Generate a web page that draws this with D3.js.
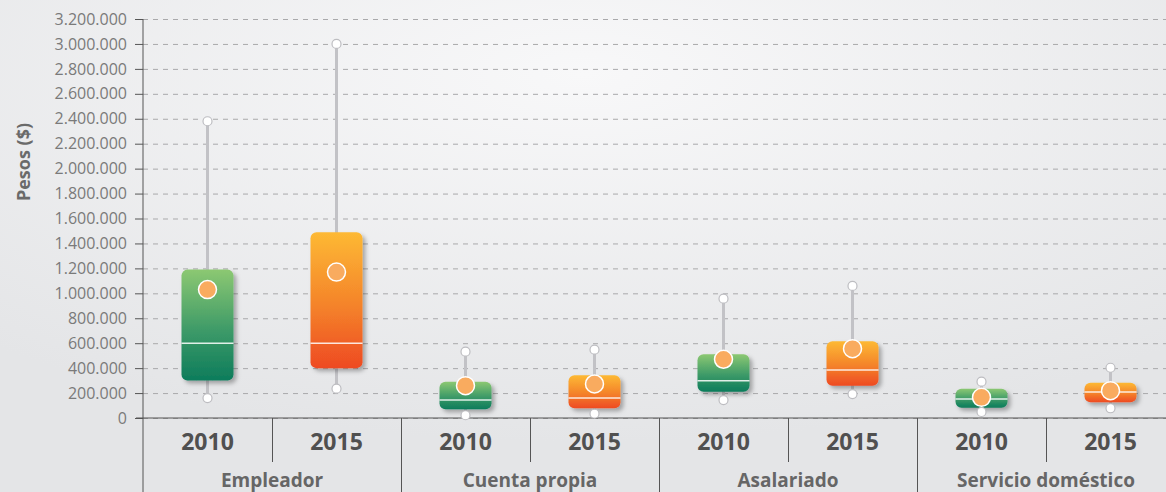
<html>
  <head>
    <script src="https://d3js.org/d3.v7.min.js"></script>
  <style>
    body { margin: 0; }
    .gridlines line {
      stroke: #a9a9ab;
      stroke-dasharray: 5,5;
    }
    .gridlines .domain { stroke: none; }
    .y-axis text {
      font-family: "Open Sans", sans-serif;
      font-size: 16px;
      fill: #7a7a7a;
    }
    .y-axis line, .y-axis .domain { stroke: #555; }
  </style>
  </head>

  <body>
    <svg id="mainSVG" width="1166" height="492"></svg>
  </body>

  <script>
      const mainSvg = d3.select("#mainSVG");
      const W = 1166, H = 492;

      // data
      const groups = ["Empleador", "Cuenta propia", "Asalariado", "Servicio doméstico"];
      const years = ["2010", "2015"];
      // order: group x year
      const mins    = [160000, 235000, 22000, 35000, 144000, 192000, 48000, 78000];
      const q1s     = [300000, 400000, 70000, 78000, 211000, 259000, 83000, 126000];
      const medians = [600000, 600000, 144000, 160000, 299000, 385000, 152000, 209000];
      const q3s     = [1190000, 1490000, 291000, 342000, 511000, 615000, 235000, 283000];
      const maxs    = [2380000, 3000000, 532000, 548000, 957000, 1059000, 291000, 403000];
      const means   = [1030000, 1170000, 259000, 273000, 471000, 556000, 166000, 219000];
      const yTicks  = d3.range(0, 3200001, 200000);

      const boxes = [];
      groups.forEach((g, gi) => {
        years.forEach((yr, yi) => {
          const i = gi * 2 + yi;
          boxes.push({ key: g + "|" + yr, group: g, year: yr,
            min: mins[i], q1: q1s[i], median: medians[i], q3: q3s[i], max: maxs[i], mean: means[i] });
        });
      });

      const x0 = 143, xEnd = 1175, y0 = 418, yTop = 19;

      const xScale = d3.scaleBand()
        .domain(boxes.map(d => d.key))
        .range([x0, xEnd])
        .padding(0);
      const yScale = d3.scaleLinear()
        .domain([0, 3200000])
        .range([y0, yTop]);

      const locale = d3.formatLocale({ decimal: ",", thousands: ".", grouping: [3], currency: ["$", ""] });
      const fmt = locale.format(",d");

      // defs: background, gradients, shadow
      const defs = mainSvg.append("defs");
      const bg = defs.append("radialGradient").attr("id", "bg")
        .attr("cx", "50%").attr("cy", "15%").attr("r", "75%");
      bg.append("stop").attr("offset", "0%").attr("stop-color", "#f8f8f9");
      bg.append("stop").attr("offset", "100%").attr("stop-color", "#e4e5e7");

      const green = defs.append("linearGradient").attr("id", "green")
        .attr("x1", 0).attr("y1", 0).attr("x2", 0).attr("y2", 1);
      green.append("stop").attr("offset", "0%").attr("stop-color", "#8cc872");
      green.append("stop").attr("offset", "55%").attr("stop-color", "#3d9a68");
      green.append("stop").attr("offset", "100%").attr("stop-color", "#0d7c5b");

      const orange = defs.append("linearGradient").attr("id", "orange")
        .attr("x1", 0).attr("y1", 0).attr("x2", 0).attr("y2", 1);
      orange.append("stop").attr("offset", "0%").attr("stop-color", "#fdb934");
      orange.append("stop").attr("offset", "55%").attr("stop-color", "#f4822a");
      orange.append("stop").attr("offset", "100%").attr("stop-color", "#ee4a23");

      const shadow = defs.append("filter").attr("id", "shadow")
        .attr("x", "-30%").attr("y", "-30%").attr("width", "160%").attr("height", "160%");
      shadow.append("feDropShadow").attr("dx", 3).attr("dy", 3)
        .attr("stdDeviation", 2).attr("flood-color", "#000").attr("flood-opacity", 0.3);

      mainSvg.append("rect").attr("width", W).attr("height", H).attr("fill", "url(#bg)");

      // gridlines
      mainSvg.append("g")
        .attr("class", "gridlines")
        .attr("transform", `translate(${x0},0)`)
        .call(d3.axisLeft(yScale).tickValues(yTicks).tickSize(-(W - x0)).tickFormat(""));

      // y axis
      const yAxisG = mainSvg.append("g")
        .attr("class", "y-axis")
        .attr("transform", `translate(${x0},0)`)
        .call(d3.axisLeft(yScale).tickValues(yTicks).tickSize(8).tickSizeOuter(0).tickPadding(8).tickFormat(fmt));
      yAxisG.select(".domain").remove();
      mainSvg.append("line")
        .attr("x1", x0).attr("x2", x0).attr("y1", yTop).attr("y2", H)
        .attr("stroke", "#555").attr("stroke-width", 1);

      // y title
      mainSvg.append("text")
        .attr("transform", "translate(23,162) rotate(-90)")
        .attr("text-anchor", "middle")
        .attr("dominant-baseline", "central")
        .style("font-family", "Open Sans, sans-serif")
        .style("font-weight", "bold")
        .style("font-size", "18px")
        .style("fill", "#6a6a6a")
        .text("Pesos ($)");

      // x axis line and dividers
      mainSvg.append("line")
        .attr("x1", 136).attr("x2", W).attr("y1", y0).attr("y2", y0)
        .attr("stroke", "#555").attr("stroke-width", 1.2);

      mainSvg.selectAll("line.ydiv")
        .data(boxes.filter(d => d.year === "2015"))
        .join("line")
        .attr("class", "ydiv")
        .attr("x1", d => Math.round(xScale(d.key)) + 0.5)
        .attr("x2", d => Math.round(xScale(d.key)) + 0.5)
        .attr("y1", y0).attr("y2", 462)
        .attr("stroke", "#555");

      mainSvg.selectAll("line.gdiv")
        .data(boxes.filter(d => d.year === "2010" && d.group !== groups[0]))
        .join("line")
        .attr("class", "gdiv")
        .attr("x1", d => Math.round(xScale(d.key)) + 0.5)
        .attr("x2", d => Math.round(xScale(d.key)) + 0.5)
        .attr("y1", y0).attr("y2", H)
        .attr("stroke", "#555");

      // year labels
      mainSvg.selectAll("text.year")
        .data(boxes)
        .join("text")
        .attr("class", "year")
        .attr("x", d => xScale(d.key) + xScale.bandwidth() / 2)
        .attr("y", 450)
        .attr("text-anchor", "middle")
        .style("font-family", "Open Sans, sans-serif")
        .style("font-weight", "bold")
        .style("font-size", "23px")
        .style("fill", "#505050")
        .text(d => d.year);

      // group labels
      mainSvg.selectAll("text.group")
        .data(groups)
        .join("text")
        .attr("class", "group")
        .attr("x", g => xScale(g + "|2015"))
        .attr("y", 487)
        .attr("text-anchor", "middle")
        .style("font-family", "Open Sans, sans-serif")
        .style("font-weight", "bold")
        .style("font-size", "19px")
        .style("fill", "#666")
        .text(g => g);

      // boxes
      const boxW = 52;
      const bx = mainSvg.selectAll("g.box")
        .data(boxes)
        .join("g")
        .attr("class", "box")
        .attr("transform", d => `translate(${xScale(d.key) + xScale.bandwidth() / 2},0)`);

      bx.append("line")
        .attr("x1", 0).attr("x2", 0)
        .attr("y1", d => yScale(d.max)).attr("y2", d => yScale(d.min))
        .attr("stroke", "#c2c2c6").attr("stroke-width", 3);

      bx.append("rect")
        .attr("x", -boxW / 2)
        .attr("width", boxW)
        .attr("y", d => yScale(d.q3))
        .attr("height", d => yScale(d.q1) - yScale(d.q3))
        .attr("rx", 6).attr("ry", 6)
        .attr("fill", d => d.year === "2010" ? "url(#green)" : "url(#orange)")
        .attr("filter", "url(#shadow)");

      bx.append("line")
        .attr("x1", -boxW / 2).attr("x2", boxW / 2)
        .attr("y1", d => yScale(d.median)).attr("y2", d => yScale(d.median))
        .attr("stroke", "#fff").attr("stroke-opacity", 0.85).attr("stroke-width", 1.5);

      bx.selectAll("circle.cap")
        .data(d => [d.min, d.max])
        .join("circle")
        .attr("class", "cap")
        .attr("cy", v => yScale(v))
        .attr("r", 4.5)
        .attr("fill", "#fff")
        .attr("stroke", "#bdbdc1")
        .attr("stroke-width", 1.2);

      bx.append("circle")
        .attr("cy", d => yScale(d.mean))
        .attr("r", 9)
        .attr("fill", "#f9ab5f")
        .attr("stroke", "#fff")
        .attr("stroke-width", 1.5);
  </script>
</html>
